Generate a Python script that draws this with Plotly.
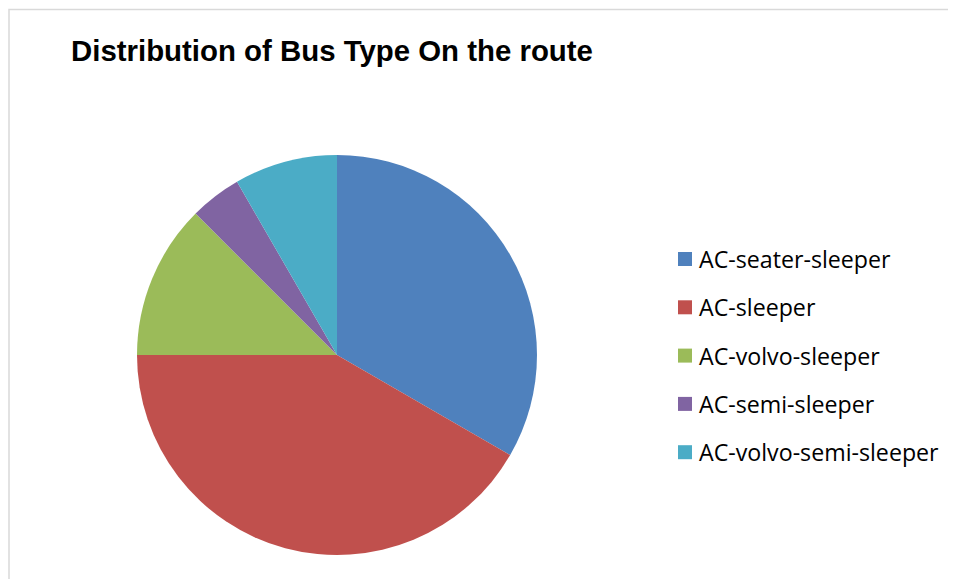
import plotly.graph_objects as go

labels = ["AC-seater-sleeper", "AC-sleeper", "AC-volvo-sleeper", "AC-semi-sleeper", "AC-volvo-semi-sleeper"]
values = [8, 10, 3, 1, 2]
colors = ["#4F81BD", "#C0504D", "#9BBB59", "#8064A2", "#4BACC6"]
title_text = "Distribution of Bus Type On the route"

W, H = 956, 579
OFF = 8  # page body margin offset

def px(x):
    return (x - OFF) / W

def py(y):
    return 1 - (y - OFF) / H

fig = go.Figure()
fig.add_trace(go.Pie(
    labels=labels,
    values=values,
    marker=dict(colors=colors, line=dict(width=0)),
    sort=False,
    direction="clockwise",
    rotation=0,
    textinfo="none",
    hoverinfo="label+value+percent",
    showlegend=False,
    domain=dict(x=[px(137), px(537)], y=[py(555), py(155)]),
))

shapes = [
    dict(type="rect", xref="paper", yref="paper",
         x0=px(9), x1=px(W + 40), y0=py(H + 40), y1=py(9.5),
         line=dict(color="#D9D9D9", width=1.5), fillcolor="rgba(0,0,0,0)", layer="below"),
]
annotations = [
    dict(text="<b>" + title_text + "</b>", xref="paper", yref="paper",
         x=px(69), y=py(50), xanchor="left", yanchor="middle", showarrow=False,
         font=dict(family="Liberation Sans, Arial", size=29.4, color="#000000")),
]

legend_y0 = 259
legend_dy = 48.3
for i, (lab, col) in enumerate(zip(labels, colors)):
    yc = legend_y0 + i * legend_dy
    shapes.append(dict(type="rect", xref="paper", yref="paper",
                       x0=px(678), x1=px(692), y0=py(yc + 7), y1=py(yc - 7),
                       line=dict(width=0), fillcolor=col))
    annotations.append(dict(text=lab, xref="paper", yref="paper",
                            x=px(697), y=py(yc), xanchor="left", yanchor="middle",
                            showarrow=False,
                            font=dict(family="Open Sans, Noto Sans", size=23.2, color="#000000")))

fig.update_layout(
    width=W, height=H,
    margin=dict(l=0, r=0, t=0, b=0),
    paper_bgcolor="white",
    plot_bgcolor="white",
    shapes=shapes,
    annotations=annotations,
)

fig.write_html("out.html")
